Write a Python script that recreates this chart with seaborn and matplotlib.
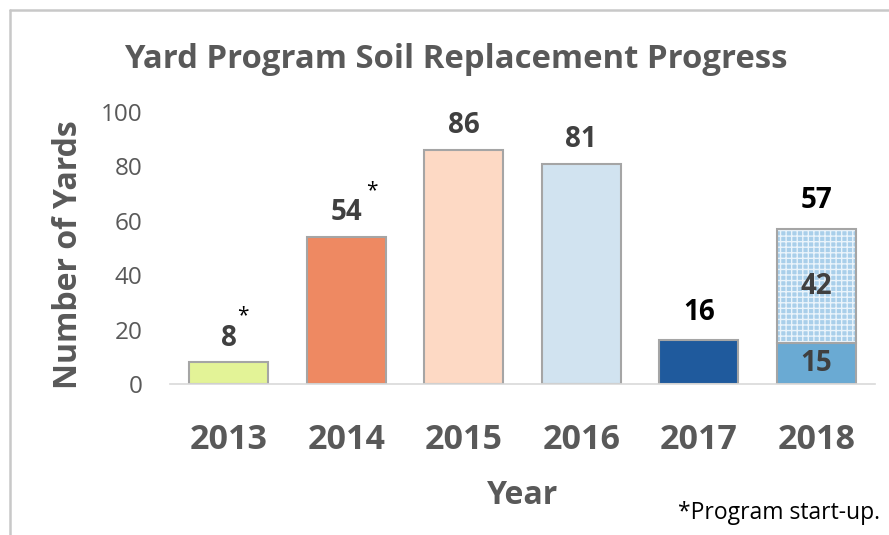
import matplotlib
matplotlib.use("Agg")
import matplotlib.pyplot as plt
import seaborn as sns
import pandas as pd
from matplotlib.lines import Line2D

years = ["2013", "2014", "2015", "2016", "2017", "2018"]
values = [8, 54, 86, 81, 16, 15]
extra_2018 = 42
total_2018 = 57
colors = ["#E3F397", "#EE8962", "#FDD9C4", "#D1E3F0", "#1F5A9D", "#6AAAD3"]
starred = ["2013", "2014"]
yticks = [0, 20, 40, 60, 80, 100]

sns.set_theme(style="white")
plt.rcParams["font.family"] = ["Open Sans", "DejaVu Sans"]
plt.rcParams["hatch.linewidth"] = 1.0

fig = plt.figure(figsize=(8.89, 5.35), dpi=100)
ax = fig.add_axes([170 / 889, 1 - 384 / 535, 705 / 889, 272 / 535])

df = pd.DataFrame({"Year": years, "Yards": values})
sns.barplot(data=df, x="Year", y="Yards", hue="Year", palette=colors, legend=False,
            width=0.67, edgecolor="#A5A5A5", linewidth=1.5, ax=ax, saturation=1)

# stacked top segment for 2018
i18 = years.index("2018")
ax.bar(i18, extra_2018, bottom=values[i18], width=0.67, color="#A9CFEA",
       edgecolor="#EAF4FB", linewidth=0, hatch="+++", zorder=2)
ax.bar(i18, extra_2018, bottom=values[i18], width=0.67, color="none",
       edgecolor="#A5A5A5", linewidth=1.5, zorder=3)

ax.set_ylim(0, 100)
ax.set_xlim(-0.5, len(years) - 0.5)
ax.set_yticks(yticks)
ax.tick_params(axis="y", labelsize=17.5, labelcolor="#595959", length=0, pad=20)
ax.tick_params(axis="x", labelsize=24.5, labelcolor="#595959", length=0, pad=28)
for t in ax.get_xticklabels():
    t.set_fontweight("bold")
for s in ["top", "right", "left"]:
    ax.spines[s].set_visible(False)
ax.spines["bottom"].set_color("#D9D9D9")
ax.spines["bottom"].set_linewidth(1.2)

ax.set_xlabel("Year", fontsize=23, fontweight="bold", color="#595959", labelpad=16)
ax.set_ylabel("Number of Yards", fontsize=23, fontweight="bold", color="#595959", labelpad=10)
ax.yaxis.set_label_coords(-0.12, 0.475)

# value labels
for i, (y, v) in enumerate(zip(years, values)):
    if y == "2018":
        continue
    col = "black" if y == "2017" else "#404040"
    ax.annotate(str(v), (i, v), xytext=(0, 7 if y != "2017" else 10), textcoords="offset points",
                ha="center", va="bottom", fontsize=20, fontweight="bold", color=col,
                annotation_clip=False)
    if y in starred:
        ax.annotate("*", (i, v), xytext=(2.5 + 8 * len(str(v)), 26), textcoords="offset points",
                    ha="center", va="bottom", fontsize=15, color="black",
                    annotation_clip=False)

ax.annotate(str(total_2018), (i18, total_2018), xytext=(0, 10), textcoords="offset points",
            ha="center", va="bottom", fontsize=20, fontweight="bold", color="black",
            annotation_clip=False)
ax.text(i18, values[i18] / 2, str(values[i18]), ha="center", va="center",
        fontsize=20, fontweight="bold", color="#404040", zorder=5)
ax.text(i18, values[i18] + extra_2018 / 2, str(extra_2018), ha="center", va="center",
        fontsize=20, fontweight="bold", color="#404040", zorder=5)

fig.text(456 / 889, 1 - 59 / 535, "Yard Program Soil Replacement Progress",
         ha="center", va="center", fontsize=23.7, fontweight="bold", color="#595959")
fig.text(880 / 889, 1 - 513 / 535, "*Program start-up.", ha="right", va="center",
         fontsize=16.5, color="black")

# outer frame (partial)
fig.add_artist(Line2D([10 / 889, 10 / 889], [0, 1 - 10 / 535], transform=fig.transFigure,
                      color="#C8C8C8", linewidth=1.8))
fig.add_artist(Line2D([10 / 889, 1], [1 - 10 / 535, 1 - 10 / 535], transform=fig.transFigure,
                      color="#C8C8C8", linewidth=1.8))

fig.savefig("out.png", dpi=100)
